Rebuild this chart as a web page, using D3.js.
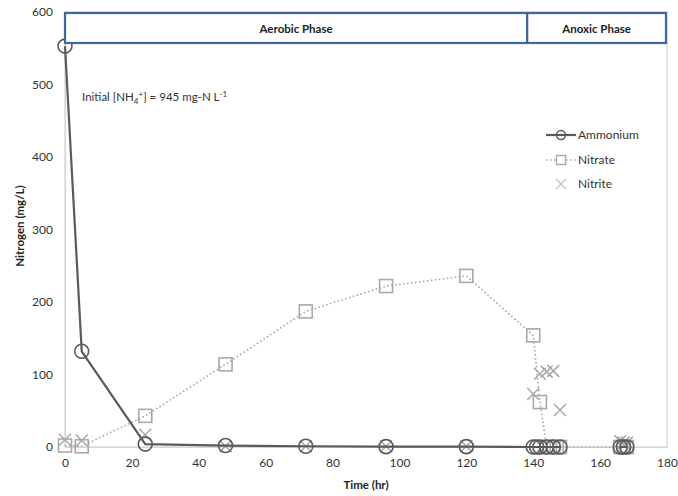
<!DOCTYPE html>
<html>
<head>
<meta charset="utf-8">
<script src="https://cdn.jsdelivr.net/npm/d3@7"></script>
<style>
  body { margin: 0; background: #fff; }
  svg { display: block; font-family: Lato, "Open Sans", sans-serif; }
</style>
</head>
<body>
<svg id="chart" width="678" height="496"></svg>
<script>
// Ammonium (mg/L); null breaks the line where no sample was taken
const ammoniumTime  = [0, 5, 24, 48, 72, 96, 120, 140, 141, 142, 144, 146, 148, null, 166, 167, 168];
const ammoniumValue = [553, 132, 4, 2, 1, 0.5, 0.5, 0, 0, 0, 0, 0, 0, null, 0, 0, 0];

// Nitrate (mg/L)
const nitrateTime  = [0, 5, 24, 48, 72, 96, 120, 140, 142, 144, 145, 146, 147, 148, 166, 167, 168];
const nitrateValue = [2, 1, 43, 114, 187, 222, 236, 154, 62, 0, 0, 0, 0, 0, 0, 0, 0];

// Nitrite (mg/L), markers only
const nitriteTime  = [0, 5, 24, 48, 72, 96, 120, 140, 142, 144, 146, 148, 166, 167, 168];
const nitriteValue = [10, 9, 17, 1, 1, 1, 1, 73, 101, 104, 105, 51, 8, 6, 6];

const xTicks = [0, 20, 40, 60, 80, 100, 120, 140, 160, 180];
const yTicks = [0, 100, 200, 300, 400, 500, 600];

const phaseNames = ["Aerobic Phase", "Anoxic Phase"];
const phaseStart = [0, 138.2];
const phaseEnd   = [138.2, 179.7];

const svg = d3.select("#chart");
const x = d3.scaleLinear().domain([0, 180]).range([65, 667]);
const y = d3.scaleLinear().domain([0, 600]).range([447, 12]);

const dark = "#5a5a5a", light = "#a8a8a8", frame = "#d6d6d6";

// plot frame
svg.append("rect")
  .attr("x", x(0)).attr("y", y(600))
  .attr("width", x(180) - x(0)).attr("height", y(0) - y(600))
  .attr("fill", "none").attr("stroke", frame).attr("stroke-width", 1.2);

// axes
const xAxis = svg.append("g").attr("transform", `translate(0,${y(0)})`)
  .call(d3.axisBottom(x).tickValues(xTicks).tickSize(0).tickPadding(11));
const yAxis = svg.append("g").attr("transform", `translate(${x(0)},0)`)
  .call(d3.axisLeft(y).tickValues(yTicks).tickSize(0).tickPadding(12));
[xAxis, yAxis].forEach(g => {
  g.select(".domain").attr("stroke", frame).attr("stroke-width", 1.2);
  g.selectAll("text").attr("font-size", 12).attr("fill", "#333")
    .attr("font-family", "Lato, 'Open Sans', sans-serif");
});

// axis titles
svg.append("text").attr("x", 366).attr("y", 489).attr("text-anchor", "middle")
  .attr("font-size", 11.5).attr("font-weight", "bold").attr("fill", "#222").text("Time (hr)");
svg.append("text").attr("transform", "translate(24,226) rotate(-90)").attr("text-anchor", "middle")
  .attr("font-size", 11.5).attr("font-weight", "bold").attr("fill", "#222").text("Nitrogen (mg/L)");

// nitrate: dotted line + squares
const nitrate = nitrateTime.map((t, i) => ({ t, v: nitrateValue[i] }));
svg.append("path").datum(nitrate)
  .attr("d", d3.line().x(d => x(d.t)).y(d => y(d.v)))
  .attr("fill", "none").attr("stroke", light).attr("stroke-width", 1.6)
  .attr("stroke-dasharray", "1.6,2.4");
svg.append("g").selectAll("rect").data(nitrate).join("rect")
  .attr("x", d => x(d.t) - 6.5).attr("y", d => y(d.v) - 6.5)
  .attr("width", 13).attr("height", 13)
  .attr("fill", "none").attr("stroke", light).attr("stroke-width", 1.6);

// nitrite: crosses
const nitrite = nitriteTime.map((t, i) => ({ t, v: nitriteValue[i] }));
const cross = d3.symbol().type(d3.symbolTimes).size(110);
svg.append("g").selectAll("path").data(nitrite).join("path")
  .attr("transform", d => `translate(${x(d.t)},${y(d.v)})`)
  .attr("d", "M-6,-6L6,6M-6,6L6,-6")
  .attr("fill", "none").attr("stroke", light).attr("stroke-width", 1.5);

// ammonium: solid line + circles
const ammonium = ammoniumTime.map((t, i) => ({ t, v: ammoniumValue[i] }));
svg.append("path").datum(ammonium)
  .attr("d", d3.line().defined(d => d.t !== null).x(d => x(d.t)).y(d => y(d.v)))
  .attr("fill", "none").attr("stroke", dark).attr("stroke-width", 2.2);
svg.append("g").selectAll("circle").data(ammonium.filter(d => d.t !== null)).join("circle")
  .attr("cx", d => x(d.t)).attr("cy", d => y(d.v)).attr("r", 7)
  .attr("fill", "none").attr("stroke", dark).attr("stroke-width", 1.6);

// phase boxes along the top
const phases = phaseNames.map((n, i) => ({ n, a: phaseStart[i], b: phaseEnd[i] }));
const pg = svg.append("g").selectAll("g").data(phases).join("g");
pg.append("rect")
  .attr("x", d => x(d.a)).attr("y", 13)
  .attr("width", d => x(d.b) - x(d.a)).attr("height", 30)
  .attr("fill", "#fff").attr("stroke", "#41679a").attr("stroke-width", 2.2);
pg.append("text")
  .attr("x", d => (x(d.a) + x(d.b)) / 2).attr("y", 32.5).attr("text-anchor", "middle")
  .attr("font-size", 11.5).attr("font-weight", "bold").attr("fill", "#222").text(d => d.n);

// initial concentration note
const note = svg.append("text").attr("x", 82).attr("y", 101).attr("font-size", 11.5).attr("fill", "#333");
note.append("tspan").text("Initial [NH");
note.append("tspan").attr("font-size", 8).attr("dy", 3).text("4");
note.append("tspan").attr("font-size", 8).attr("dy", -7).text("+");
note.append("tspan").attr("dy", 4).text("] = 945 mg-N L");
note.append("tspan").attr("font-size", 8).attr("dy", -4).text("-1");

// legend
const legend = svg.append("g");
const lx = 546;
legend.append("line").attr("x1", lx).attr("x2", lx + 30).attr("y1", 135).attr("y2", 135)
  .attr("stroke", dark).attr("stroke-width", 2.2);
legend.append("circle").attr("cx", lx + 15).attr("cy", 135).attr("r", 4.5)
  .attr("fill", "none").attr("stroke", dark).attr("stroke-width", 1.4);
legend.append("line").attr("x1", lx).attr("x2", lx + 30).attr("y1", 160).attr("y2", 160)
  .attr("stroke", light).attr("stroke-width", 1.4).attr("stroke-dasharray", "1.5,2.5");
legend.append("rect").attr("x", lx + 10.5).attr("y", 155.5).attr("width", 9).attr("height", 9)
  .attr("fill", "#fff").attr("stroke", light).attr("stroke-width", 1.4);
legend.append("path").attr("transform", `translate(${lx + 15},184)`)
  .attr("d", "M-5,-5L5,5M-5,5L5,-5").attr("stroke", "#c4c4c4").attr("stroke-width", 1.2);
[["Ammonium", 139], ["Nitrate", 164], ["Nitrite", 188]].forEach(([t, yy]) => {
  legend.append("text").attr("x", lx + 32).attr("y", yy).attr("font-size", 12)
    .attr("fill", "#333").text(t);
});
</script>
</body>
</html>
